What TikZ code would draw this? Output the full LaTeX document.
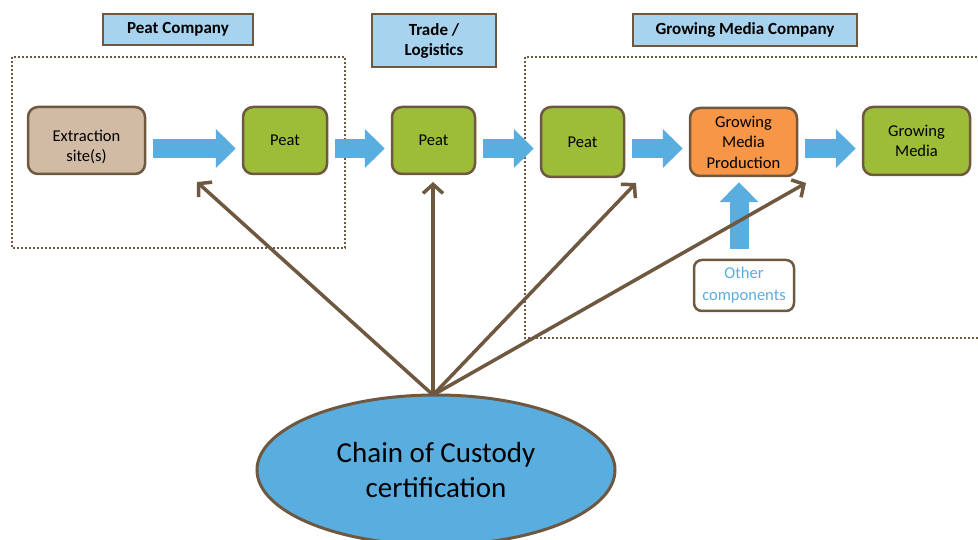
\documentclass[tikz,border=0pt]{standalone}
\usepackage{fontspec}
\setmainfont{Carlito}
\usetikzlibrary{shapes.geometric,arrows.meta,calc}
\definecolor{brd}{HTML}{6E5840}
\definecolor{grn}{HTML}{9DBD38}
\definecolor{tan}{HTML}{D2BBA4}
\definecolor{org}{HTML}{F79646}
\definecolor{blu}{HTML}{5AAEDF}
\definecolor{lbl}{HTML}{A8D3EE}
\begin{document}
\begin{tikzpicture}[x=1pt,y=-1pt,
  stage/.style={draw=brd,line width=2.5pt,rounded corners=10pt,minimum height=67pt,align=center,font=\fontsize{16.5}{20.5}\selectfont,inner sep=2pt},
  hdr/.style={draw=brd,line width=2pt,fill=lbl,align=center,font=\fontsize{17}{20}\selectfont\bfseries},
  zone/.style={draw=brd,line width=2pt,dotted},
  flow/.style={blu,line width=19pt,-{Triangle[length=20pt,width=38pt]},shorten <=7pt,shorten >=6pt},
  coc/.style={brd,line width=3.5pt,-{Straight Barb[length=9pt,width=20pt]}}]
\useasboundingbox (0,0) rectangle (978,540);
% zones
\draw[zone] (12,57) rectangle (345,248);
\draw[zone] (525,57) rectangle (990,338);
% headers
\node[hdr,minimum width=150pt,minimum height=31pt] (h1) at (178,29.5) {Peat Company};
\node[hdr,minimum width=124pt,minimum height=53pt] (h2) at (434,40.5) {Trade /\\Logistics};
\node[hdr,minimum width=224pt,minimum height=32pt] (h3) at (745,30) {Growing Media Company};
% stages
\node[stage,fill=tan,minimum width=117pt] (ext) at (86.5,140.5) {\rule{0pt}{24pt}Extraction\\site(s)};
\node[stage,fill=grn,minimum width=84pt] (p1) at (285,140.5) {Peat};
\node[stage,fill=grn,minimum width=83pt] (p2) at (433.5,140.5) {Peat};
\node[stage,fill=grn,minimum width=83pt,minimum height=70pt] (p3) at (582.5,142) {Peat};
\node[stage,fill=org,minimum width=107pt,minimum height=68pt] (gmp) at (743.5,142) {Growing\\Media\\Production};
\node[stage,fill=grn,minimum width=107pt,minimum height=68pt] (gm) at (916.5,141) {Growing\\Media};
\node[stage,fill=white,minimum width=100pt,minimum height=51pt,text=blu,rounded corners=8pt,font=\fontsize{16.5}{22}\selectfont] (oth) at (744,285.5) {Other\\components};
% flow arrows
\draw[flow] ($(ext.east)+(0,8)$) -- ($(p1.west|-ext.east)+(0,8)$);
\draw[flow] ($(p1.east)+(0,8)$) -- ($(p2.west)+(0,8)$);
\draw[flow] ($(p2.east)+(0,8)$) -- ($(p3.west|-p2.east)+(0,8)$);
\draw[flow] ($(p3.east|-p2.east)+(0,8)$) -- ($(gmp.west|-p2.east)+(0,8)$);
\draw[flow] ($(gmp.east|-p2.east)+(0,8)$) -- ($(gm.west|-p2.east)+(0,8)$);
\draw[flow,shorten <=10pt,shorten >=5pt] (oth.north-|739,0) -- (gmp.south-|739,0);
% chain of custody
\node[ellipse,draw=brd,line width=3pt,fill=blu,minimum width=358pt,minimum height=150pt,align=center,font=\fontsize{29}{35}\selectfont] (cc) at (436,470) {Chain of Custody\\certification};
\coordinate (src) at (433,395);
\coordinate (c1) at (197,182);
\coordinate (c2) at (433,182);
\coordinate (c3) at (636,183);
\coordinate (c4) at (806,183);
\draw[coc] (src) -- (c1);
\draw[coc] (src) -- (c2);
\draw[coc] (src) -- (c3);
\draw[coc] (src) -- (c4);
\end{tikzpicture}
\end{document}
